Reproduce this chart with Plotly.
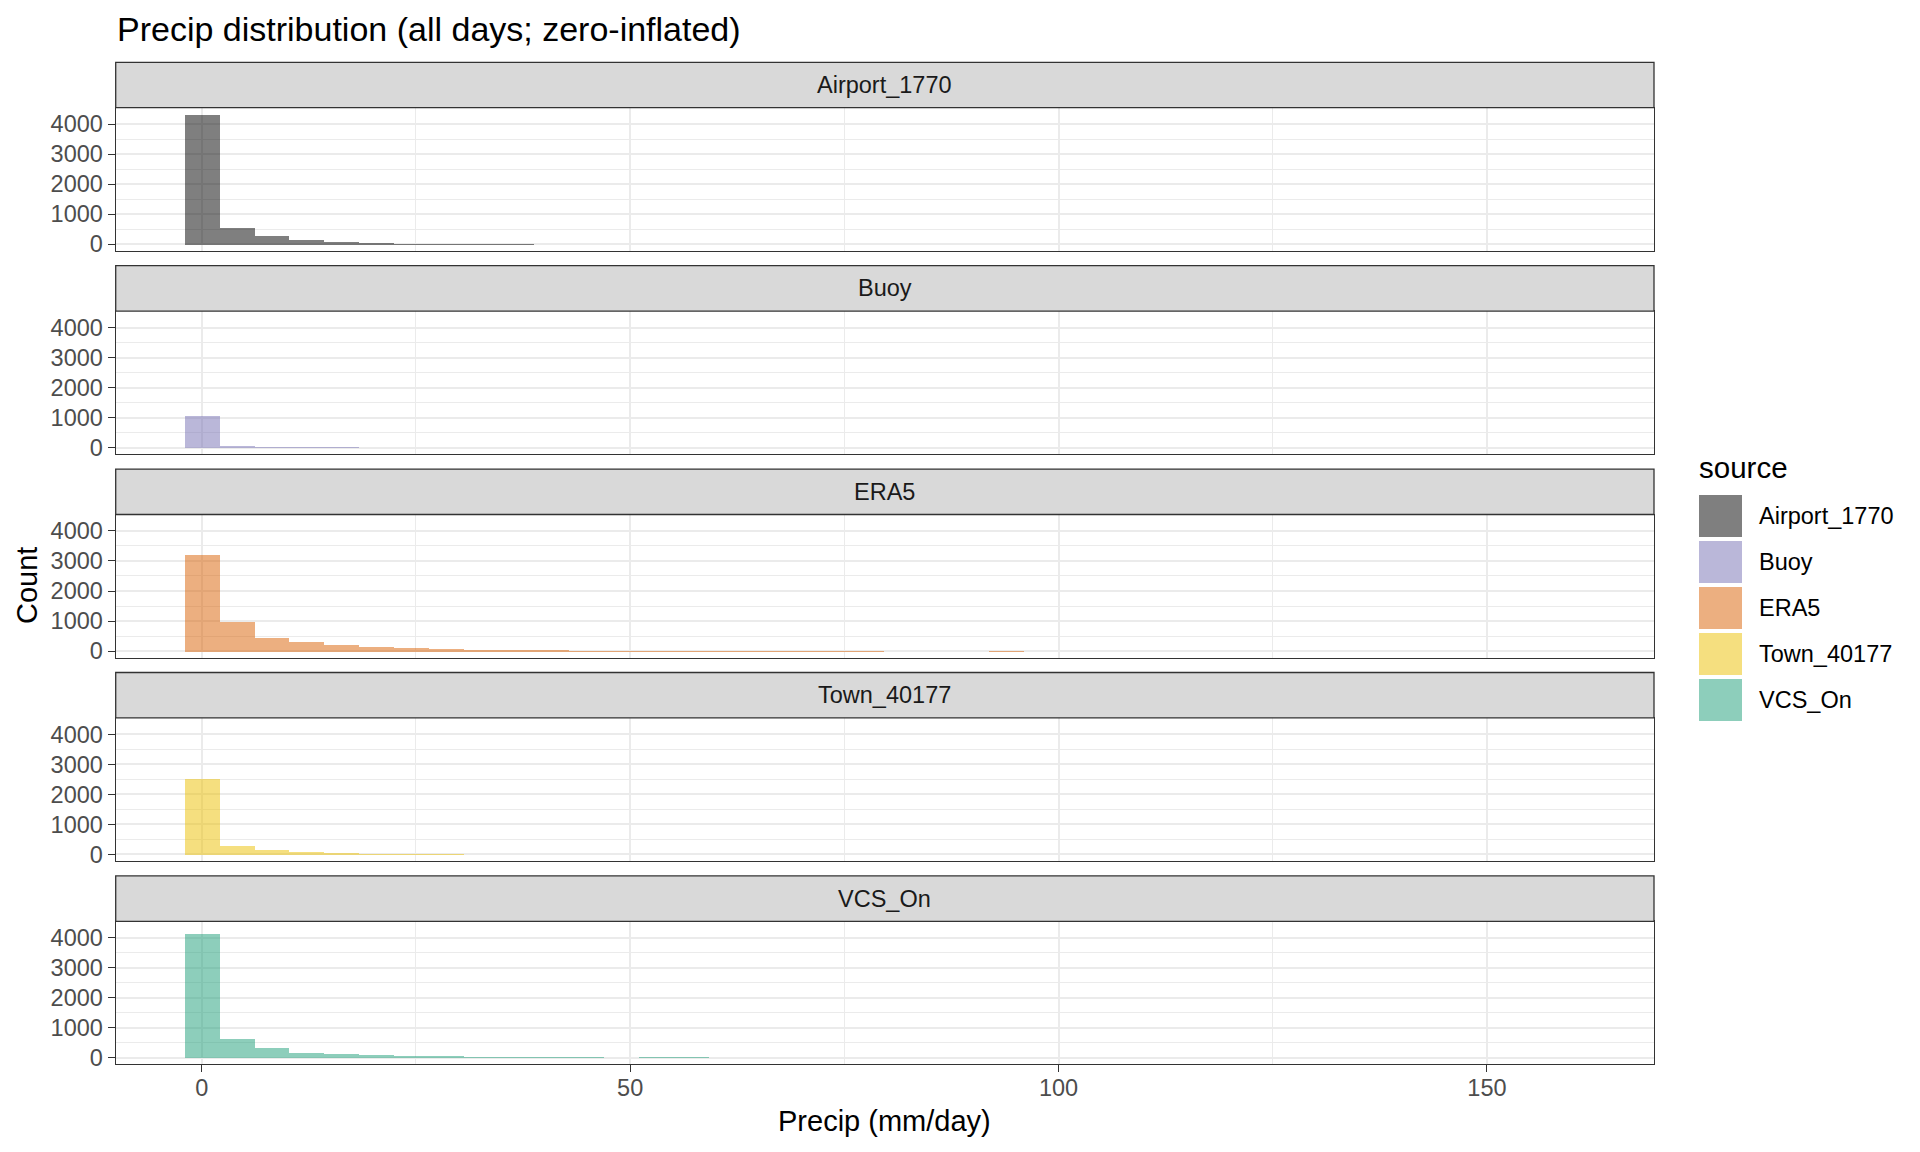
import plotly.graph_objects as go

# ---------------- data ----------------
SOURCES = ["Airport_1770", "Buoy", "ERA5", "Town_40177", "VCS_On"]
BIN_WIDTH = 4.083  # histogram bin width (mm/day), bins centred on k*BIN_WIDTH

airport_counts = [4330, 557, 298, 160, 90, 55, 25, 22, 20, 18]
buoy_counts = [1045, 45, 18, 16, 14]
era5_counts = [3230, 980, 452, 319, 220, 154, 121, 88, 55, 52, 50,
               25, 23, 22, 21, 20, 20, 19, 18, 18, 0, 0, 0, 28]
town_counts = [2511, 278, 144, 78, 38, 18, 16, 15]
vcs_counts = [4121, 617, 320, 154, 121, 88, 55, 55, 24, 22, 21, 20, 0, 22, 21]

COUNTS = [airport_counts, buoy_counts, era5_counts, town_counts, vcs_counts]
COLORS = ["rgba(0,0,0,0.5)", "rgba(117,112,179,0.5)", "rgba(217,95,2,0.5)",
          "rgba(235,191,0,0.5)", "rgba(27,158,119,0.5)"]

X_TICKS = [0, 50, 100, 150]
X_MINOR = [25, 75, 125]
Y_TICKS = [0, 1000, 2000, 3000, 4000]
Y_MINOR = [500, 1500, 2500, 3500]

# ---------------- layout geometry (pixels) ----------------
W, H = 1920, 1152
FONT = "Liberation Sans, Arial, sans-serif"
PL, PR = 115.7, 1654.0
STRIP_TOP0, PANEL_TOP0, PANEL_BOT0 = 62.3, 107.7, 250.7
PITCH = 203.4
BORDER = "#333333"


def px(x):
    return x / W


def py(y):
    return 1 - y / H


fig = go.Figure()
shapes = []
annotations = []
layout = {}

for i, (name, counts, color) in enumerate(zip(SOURCES, COUNTS, COLORS)):
    xs = [k * BIN_WIDTH for k, c in enumerate(counts) if c > 0]
    ys = [c for c in counts if c > 0]
    n = "" if i == 0 else str(i + 1)
    fig.add_trace(go.Bar(x=xs, y=ys, width=BIN_WIDTH, marker=dict(color=color, line=dict(width=0)),
                         xaxis="x" + n, yaxis="y" + n, showlegend=False, name=name))
    st = STRIP_TOP0 + i * PITCH
    pt = PANEL_TOP0 + i * PITCH
    pb = PANEL_BOT0 + i * PITCH
    last = i == len(SOURCES) - 1
    layout["xaxis" + n] = dict(
        domain=[px(PL), px(PR)], anchor="y" + n, range=[-10.04, 169.5],
        tickmode="array", tickvals=X_TICKS, ticktext=[str(v) for v in X_TICKS],
        showticklabels=last, ticks="outside" if last else "", ticklen=7, tickwidth=1.3,
        tickcolor=BORDER, tickfont=dict(family=FONT, size=23.5, color="#4D4D4D"),
        ticklabelstandoff=-5,
        showgrid=True, gridcolor="#EBEBEB", gridwidth=1.6,
        minor=dict(tickvals=X_MINOR, showgrid=True, gridcolor="#EBEBEB", gridwidth=0.8, ticks=""),
        showline=True, mirror=True, linecolor=BORDER, linewidth=1.3, zeroline=False,
        fixedrange=True, automargin=False,
    )
    layout["yaxis" + n] = dict(
        domain=[py(pb), py(pt)], anchor="x" + n, range=[-216.7, 4549.7],
        tickmode="array", tickvals=Y_TICKS, ticktext=[str(v) for v in Y_TICKS],
        ticks="outside", ticklen=7, tickwidth=1.3, tickcolor=BORDER,
        tickfont=dict(family=FONT, size=23.5, color="#4D4D4D"),
        showgrid=True, gridcolor="#EBEBEB", gridwidth=1.6,
        minor=dict(tickvals=Y_MINOR, showgrid=True, gridcolor="#EBEBEB", gridwidth=0.8, ticks=""),
        showline=True, mirror=True, linecolor=BORDER, linewidth=1.3, zeroline=False,
        fixedrange=True, automargin=False,
    )
    # facet strip
    shapes.append(dict(type="rect", xref="paper", yref="paper", x0=px(PL), x1=px(PR),
                       y0=py(pt), y1=py(st), fillcolor="#D9D9D9",
                       line=dict(color=BORDER, width=1.3), layer="above"))
    annotations.append(dict(text=name, xref="paper", yref="paper", x=px((PL + PR) / 2),
                            y=py((st + pt) / 2), xanchor="center", yanchor="middle",
                            showarrow=False, font=dict(family=FONT, size=23.5, color="#1A1A1A")))

# titles
annotations.append(dict(text="Precip distribution (all days; zero-inflated)", xref="paper", yref="paper",
                        x=px(115), y=py(29), xanchor="left", yanchor="middle", showarrow=False,
                        font=dict(family=FONT, size=34, color="#000000")))
annotations.append(dict(text="Precip (mm/day)", xref="paper", yref="paper",
                        x=px((PL + PR) / 2), y=py(1121), xanchor="center", yanchor="middle",
                        showarrow=False, font=dict(family=FONT, size=29, color="#000000")))
annotations.append(dict(text="Count", xref="paper", yref="paper", textangle=-90,
                        x=px(27), y=py(586), xanchor="center", yanchor="middle",
                        showarrow=False, font=dict(family=FONT, size=29, color="#000000")))

# legend (drawn manually to match ggplot key size)
annotations.append(dict(text="source", xref="paper", yref="paper", x=px(1697), y=py(467),
                        xanchor="left", yanchor="middle", showarrow=False,
                        font=dict(family=FONT, size=29.5, color="#000000")))
KEY_TOP0, KEY_SIZE, KEY_PITCH = 495.0, 42.0, 46.0
for i, (name, color) in enumerate(zip(SOURCES, COLORS)):
    kt = KEY_TOP0 + i * KEY_PITCH
    shapes.append(dict(type="rect", xref="paper", yref="paper", x0=px(1699), x1=px(1742),
                       y0=py(kt + KEY_SIZE), y1=py(kt), fillcolor=color, line=dict(width=0)))
    annotations.append(dict(text=name, xref="paper", yref="paper", x=px(1757), y=py(kt + KEY_SIZE / 2),
                            xanchor="left", yanchor="middle", showarrow=False,
                            font=dict(family=FONT, size=23.5, color="#000000")))

fig.update_layout(**layout)
fig.update_layout(width=W, height=H,
                  margin=dict(l=0, r=0, t=0, b=0, pad=0, autoexpand=False),
                  paper_bgcolor="white", plot_bgcolor="white", showlegend=False,
                  bargap=0, shapes=shapes, annotations=annotations,
                  font=dict(family=FONT))

fig.write_html("out.html", config={"displayModeBar": False})
with open("out.html", "r", encoding="utf-8") as f:
    html = f.read()
html = html.replace("<head>", "<head><style>html,body{margin:0;padding:0;overflow:hidden;}</style>", 1)
with open("out.html", "w", encoding="utf-8") as f:
    f.write(html)
